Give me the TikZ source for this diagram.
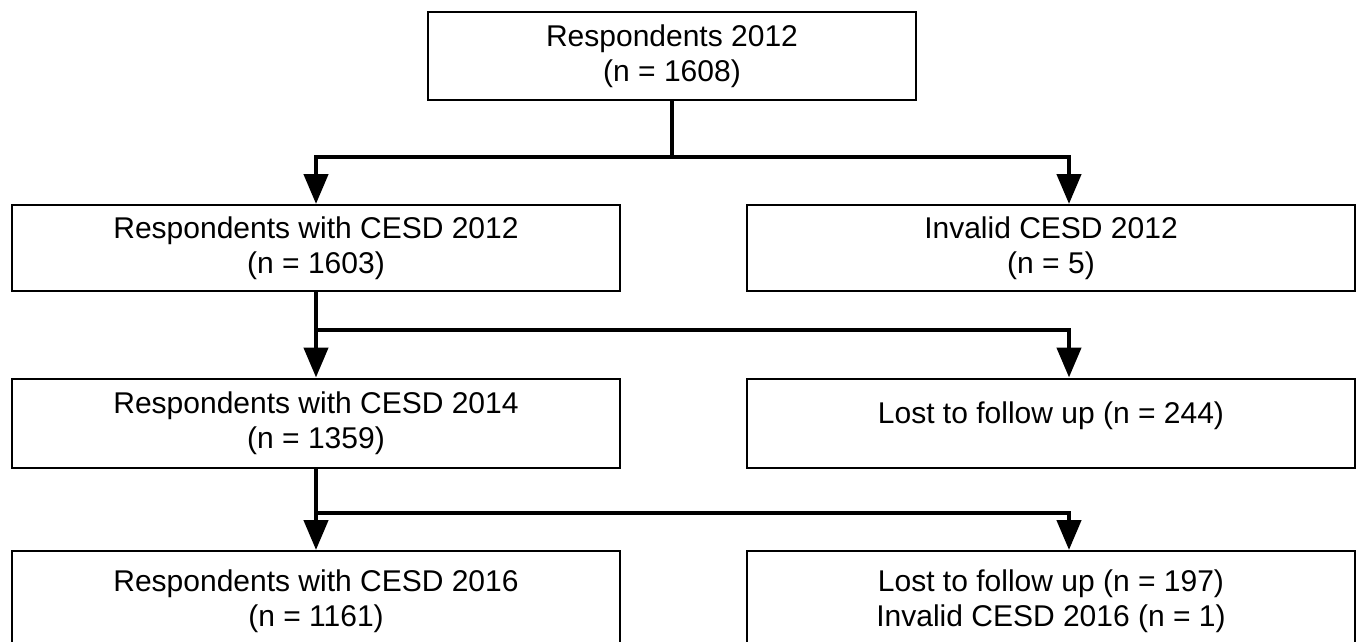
\documentclass[tikz,border=0pt]{standalone}
\usepackage{fontspec}
\setmainfont{Liberation Sans}
\usetikzlibrary{arrows.meta}
\begin{document}
\begin{tikzpicture}[x=1pt,y=-1pt,
  box/.style={draw, line width=2pt, minimum width=608pt, inner sep=0pt, align=center,
    font=\fontsize{30}{35}\selectfont},
  conn/.style={line width=4.5pt},
  arr/.style={conn, -{Triangle[width=24pt,length=30pt]}}]
\useasboundingbox (0,0) rectangle (1358,642);
\clip (0,0) rectangle (1358,642);
\node[box, minimum width=488pt, minimum height=88pt] (top) at (672,56) {Respondents 2012\\(n = 1608)};
\node[box, minimum height=86pt] (l1) at (316,248) {Respondents with CESD 2012\\(n = 1603)};
\node[box, minimum height=86pt] (r1) at (1051,248) {Invalid CESD 2012\\(n = 5)};
\node[box, minimum height=89pt] (l2) at (316,423) {Respondents with CESD 2014\\(n = 1359)};
\node[box, minimum height=89pt] (r2) at (1051,423) {\raisebox{20pt}{Lost to follow up (n = 244)}};
\node[box, minimum height=100pt] (l3) at (316,601) {Respondents with CESD 2016\\(n = 1161)};
\node[box, minimum height=100pt] (r3) at (1051,601) {Lost to follow up (n = 197)\\Invalid CESD 2016 (n = 1)};
\coordinate (j1) at (top.south |- 0,157);
\coordinate (j2) at (l1.south |- 0,330);
\coordinate (j3) at (l2.south |- 0,513);
\draw[conn] (top.south) -- (j1);
\draw[arr] (j1) -| (l1.north);
\draw[arr] (j1) -| ([xshift=18pt]r1.north);
\draw[arr] (l1.south) -- (l2.north);
\draw[arr] (j2) -| ([xshift=18pt]r2.north);
\draw[arr] (l2.south) -- (l3.north);
\draw[arr] (j3) -| ([xshift=18pt]r3.north);
\end{tikzpicture}
\end{document}
